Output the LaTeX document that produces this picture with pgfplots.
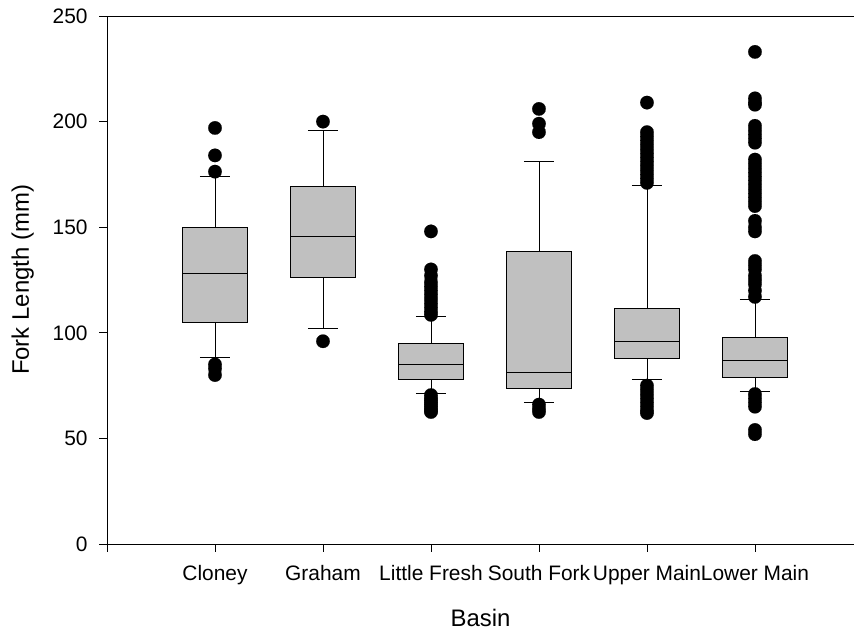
\documentclass[border=0pt]{standalone}
\usepackage{pgfplots}
\pgfplotsset{compat=1.18}
\usepackage{fontspec}
\setmainfont{Liberation Sans}
\definecolor{boxgray}{RGB}{192,192,192}
\pgfplotsset{
  outl/.style={only marks, mark=*, mark size=6.8, mark options={fill=black, draw=black, line width=0.1pt}}
}
\begin{document}
\begin{tikzpicture}
\begin{axis}[
  name=ax,
  scale only axis,
  width=747bp, height=528bp,
  xmin=0, xmax=6.917, ymin=0, ymax=250,
  axis x line*=bottom, axis y line*=left,
  axis line style={line width=0.8pt, black},
  tick align=outside,
  major tick length=8pt,
  tick style={line width=0.8pt, black},
  xtick={0,1,2,3,4,5,6},
  xticklabels={,Cloney,Graham,Little Fresh,South Fork,Upper Main,Lower Main},
  ytick={0,50,100,150,200,250},
  tick label style={font=\fontsize{21}{25}\selectfont},
  xticklabel style={yshift=-10pt},
  yticklabel style={xshift=-8pt},
  /pgf/number format/assume math mode=true,
  xlabel={Basin}, ylabel={Fork Length (mm)},
  label style={font=\fontsize{24}{28}\selectfont},
  xlabel style={yshift=-17pt},
  ylabel style={yshift=12pt},
  clip=false,
  unbounded coords=jump,
]
% whiskers and caps
\addplot[black, line width=0.8pt, mark=none] coordinates {
 (1,150) (1,174) (nan,nan) (0.86,174) (1.14,174) (nan,nan) (1,105) (1,88.5) (nan,nan) (0.86,88.5) (1.14,88.5) (nan,nan)
 (2,169.5) (2,195.7) (nan,nan) (1.86,195.7) (2.14,195.7) (nan,nan) (2,126) (2,102.3) (nan,nan) (1.86,102.3) (2.14,102.3) (nan,nan)
 (3,95) (3,108) (nan,nan) (2.86,108) (3.14,108) (nan,nan) (3,78) (3,71.2) (nan,nan) (2.86,71.2) (3.14,71.2) (nan,nan)
 (4,138.5) (4,181) (nan,nan) (3.86,181) (4.14,181) (nan,nan) (4,73.5) (4,67) (nan,nan) (3.86,67) (4.14,67) (nan,nan)
 (5,111.5) (5,170) (nan,nan) (4.86,170) (5.14,170) (nan,nan) (5,88) (5,78) (nan,nan) (4.86,78) (5.14,78) (nan,nan)
 (6,98) (6,115.8) (nan,nan) (5.86,115.8) (6.14,115.8) (nan,nan) (6,79) (6,72.3) (nan,nan) (5.86,72.3) (6.14,72.3)
};
% boxes
\addplot[draw=black, fill=boxgray, line width=0.8pt, line cap=rect, mark=none] coordinates {(0.7,105) (1.3,105) (1.3,150) (0.7,150) (0.7,105)};
\addplot[draw=black, fill=boxgray, line width=0.8pt, line cap=rect, mark=none] coordinates {(1.7,126) (2.3,126) (2.3,169.5) (1.7,169.5) (1.7,126)};
\addplot[draw=black, fill=boxgray, line width=0.8pt, line cap=rect, mark=none] coordinates {(2.7,78) (3.3,78) (3.3,95) (2.7,95) (2.7,78)};
\addplot[draw=black, fill=boxgray, line width=0.8pt, line cap=rect, mark=none] coordinates {(3.7,73.5) (4.3,73.5) (4.3,138.5) (3.7,138.5) (3.7,73.5)};
\addplot[draw=black, fill=boxgray, line width=0.8pt, line cap=rect, mark=none] coordinates {(4.7,88) (5.3,88) (5.3,111.5) (4.7,111.5) (4.7,88)};
\addplot[draw=black, fill=boxgray, line width=0.8pt, line cap=rect, mark=none] coordinates {(5.7,79) (6.3,79) (6.3,98) (5.7,98) (5.7,79)};
% medians
\addplot[black, line width=0.9pt, mark=none] coordinates {
 (0.7,128) (1.3,128) (nan,nan) (1.7,145.5) (2.3,145.5) (nan,nan) (2.7,85) (3.3,85) (nan,nan)
 (3.7,81) (4.3,81) (nan,nan) (4.7,96) (5.3,96) (nan,nan) (5.7,87) (6.3,87)
};
% outliers
\addplot[outl] coordinates {(1,197) (1,184) (1,176.3) (1,85) (1,83) (1,80)};
\addplot[outl] coordinates {(2,200) (2,96)};
\addplot[outl] coordinates {(3,148) (3,130) (3,127) (3,124) (3,122) (3,120) (3,118) (3,116) (3,114) (3,112) (3,110) (3,108.5)
  (3,70.5) (3,69) (3,68) (3,67) (3,66) (3,65) (3,64) (3,63) (3,62.5)};
\addplot[outl] coordinates {(4,206) (4,199) (4,195) (4,66) (4,64) (4,62.5)};
\addplot[outl] coordinates {(5,209) (5,195) (5,193) (5,191) (5,189) (5,187) (5,185) (5,183) (5,181) (5,179) (5,177) (5,175) (5,173) (5,171)
  (5,75) (5,73) (5,71) (5,69) (5,67) (5,65) (5,63) (5,62)};
\addplot[outl] coordinates {(6,233) (6,211) (6,209) (6,208) (6,198) (6,196) (6,194) (6,192) (6,190) (6,182) (6,180) (6,178) (6,176) (6,174) (6,172) (6,170) (6,168) (6,166) (6,164) (6,162) (6,160) (6,153) (6,150) (6,148) (6,134) (6,132) (6,130) (6,127) (6,125) (6,123) (6,120) (6,117)
  (6,71) (6,69) (6,67) (6,65) (6,54) (6,52)};
% top frame line
\addplot[black, line width=0.8pt, mark=none] coordinates {(0,250) (6.917,250)};
\end{axis}
\pgfresetboundingbox
\path ([shift={(-107bp,-89bp)}]ax.south west) rectangle ([shift={(0bp,16bp)}]ax.north east);
\end{tikzpicture}
\end{document}
